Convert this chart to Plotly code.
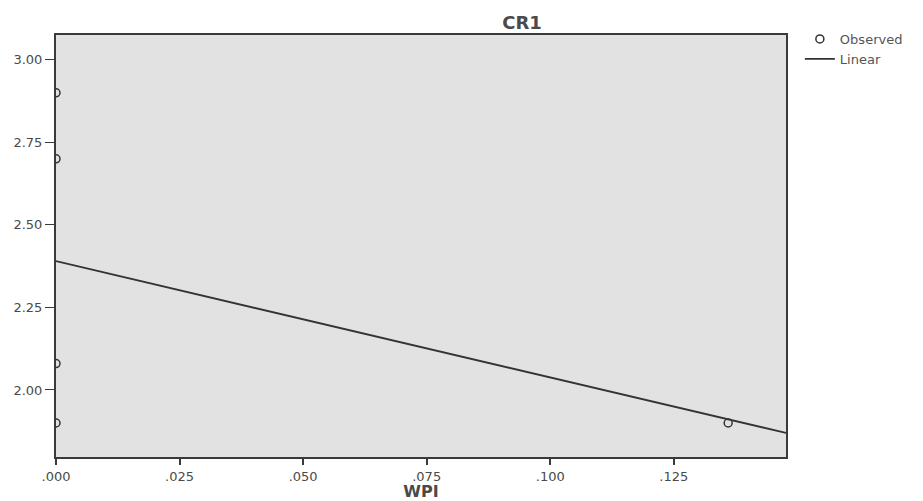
import plotly.graph_objects as go

# Observed data
wpi_observed = [0.0, 0.0, 0.0, 0.0, 0.136]
cr1_observed = [2.90, 2.70, 2.08, 1.90, 1.90]

# Linear fit
wpi_linear = [0.0, 0.1477]
cr1_linear = [2.39, 1.87]

x_tick_vals = [0.0, 0.025, 0.05, 0.075, 0.1, 0.125]
x_tick_text = [".000", ".025", ".050", ".075", ".100", ".125"]
y_tick_vals = [2.0, 2.25, 2.5, 2.75, 3.0]
y_tick_text = ["2.00", "2.25", "2.50", "2.75", "3.00"]

font_family = "DejaVu Sans, Liberation Sans, Arial, sans-serif"
axis_color = "#3a3a3a"
text_color = "#4a4a4a"

fig = go.Figure()
fig.add_trace(go.Scatter(
    x=wpi_observed, y=cr1_observed, mode="markers", name="Observed",
    marker=dict(symbol="circle-open", size=8, color="#333333", line=dict(width=1.5)),
    cliponaxis=True,
))
fig.add_trace(go.Scatter(
    x=wpi_linear, y=cr1_linear, mode="lines", name="Linear",
    line=dict(color="#333333", width=1.8),
))

fig.update_layout(
    width=923, height=501,
    margin=dict(l=56, r=137, t=35, b=44, autoexpand=False),
    paper_bgcolor="white",
    plot_bgcolor="#e2e2e2",
    font=dict(family=font_family, color=text_color, size=13),
    title=dict(text="<b>CR1</b>", x=522/923, xanchor="center", y=1 - 22.5/501, yanchor="middle",
               font=dict(size=18, color=text_color)),
    showlegend=True,
    legend=dict(x=1.019, y=1.026, xanchor="left", yanchor="top", bgcolor="rgba(0,0,0,0)",
                font=dict(size=13, color="#555555"), tracegroupgap=0, itemwidth=30),
    xaxis=dict(range=[0.0, 0.1477], tickvals=x_tick_vals, ticktext=x_tick_text, automargin=False,
               showgrid=False, zeroline=False, showline=True, linecolor=axis_color, linewidth=2,
               mirror=True, ticks="outside", tickcolor=axis_color, ticklen=6, tickwidth=2,
               title=dict(text="<b>WPI</b>", standoff=11, font=dict(size=16, color=text_color))),
    yaxis=dict(range=[1.797, 3.075], tickvals=y_tick_vals, ticktext=y_tick_text, automargin=False,
               showgrid=False, zeroline=False, showline=True, linecolor=axis_color, linewidth=2,
               mirror=True, ticks="outside", tickcolor=axis_color, ticklen=9, tickwidth=1),
)

fig.write_html("out.html", config={"displayModeBar": False},
               post_script="document.body.style.margin='0';document.body.style.padding='0';")
